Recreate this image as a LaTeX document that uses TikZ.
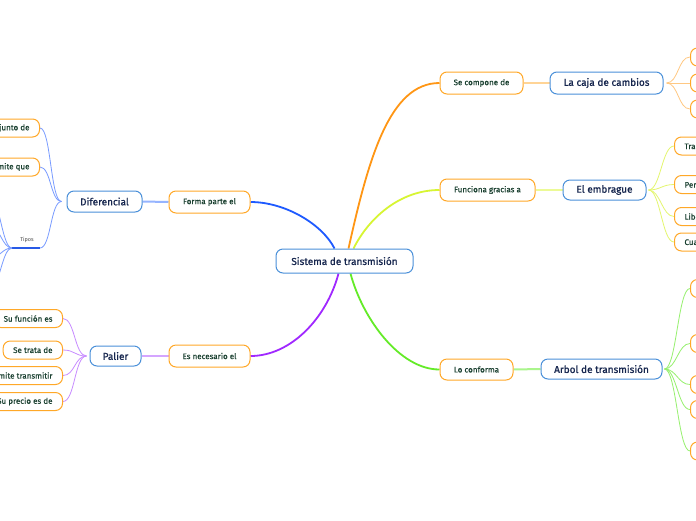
\documentclass[tikz,border=0pt]{standalone}
\usepackage{fontspec}
\setmainfont{Fira Sans}
\newfontfamily\mainfnt{Fira Sans}[FakeBold=0.9]
\newfontfamily\linkfnt{Fira Sans}[FakeBold=0.4]
\usetikzlibrary{backgrounds}
\definecolor{boxorange}{RGB}{255,168,40}
\definecolor{mainblue}{RGB}{74,144,217}
\definecolor{navy}{RGB}{22,38,78}
\definecolor{dkgreen}{RGB}{26,64,48}
\definecolor{cblue}{RGB}{30,90,255}
\definecolor{cpurple}{RGB}{160,40,255}
\definecolor{corange}{RGB}{255,150,20}
\definecolor{cyellow}{RGB}{215,245,50}
\definecolor{cgreen}{RGB}{100,235,40}
\definecolor{lblue}{RGB}{150,180,255}
\definecolor{lpurple}{RGB}{212,165,255}
\definecolor{lorange}{RGB}{255,212,150}
\definecolor{lyellow}{RGB}{236,250,150}
\definecolor{lgreen}{RGB}{170,245,140}
\definecolor{tblue}{RGB}{120,155,255}
\definecolor{tpurple}{RGB}{200,140,255}
\definecolor{torange}{RGB}{255,200,130}
\definecolor{tyellow}{RGB}{228,246,110}
\definecolor{tgreen}{RGB}{150,240,110}
\definecolor{tipblue}{RGB}{40,90,230}
\begin{document}
\begin{tikzpicture}[x=1pt,y=-1pt,
  mainbox/.style={draw=mainblue, line width=1pt, rounded corners=7pt, fill=white, text=navy,
    font=\mainfnt\fontsize{10}{12}\selectfont, inner sep=0pt, minimum height=21pt},
  linkbox/.style={draw=boxorange, line width=1pt, rounded corners=7pt, fill=white, text=dkgreen,
    font=\linkfnt\fontsize{8}{10}\selectfont, inner sep=0pt, minimum height=22pt},
  leafbox/.style={draw=boxorange, line width=1pt, rounded corners=7pt, fill=white, text=dkgreen,
    font=\linkfnt\fontsize{8}{10}\selectfont, inner xsep=10pt, inner ysep=0pt, minimum height=18pt},
  stubbox/.style={draw=boxorange, line width=1pt, rounded corners=7pt, fill=white,
    inner sep=0pt, minimum height=18pt, minimum width=60pt},
  maincon/.style={line width=1.8pt},
  linkcon/.style={line width=2pt},
  leafcon/.style={line width=0.8pt}
]
\useasboundingbox (0,0) rectangle (696,520);
\clip (0,0) rectangle (696,520);

% central
\node[mainbox, minimum width=137pt, minimum height=24pt] (sys) at (344.5,261) {Sistema de transmisión};

% left branch nodes
\node[linkbox, minimum width=81pt] (forma) at (209.5,202) {Forma parte el};
\node[mainbox, minimum width=75pt] (dif) at (104.5,201.5) {Diferencial};
\node[linkbox, minimum width=81pt] (necesario) at (209.5,356) {Es necesario el};
\node[mainbox, minimum width=51pt, minimum height=20pt] (palier) at (115.5,356) {Palier};

% right branch nodes
\node[linkbox, minimum width=83pt] (compone) at (481.5,83) {Se compone de};
\node[mainbox, minimum width=113pt, minimum height=22pt] (caja) at (606.5,83) {La caja de cambios};
\node[linkbox, minimum width=95pt] (funciona) at (487.5,190) {Funciona gracias a};
\node[mainbox, minimum width=83pt, minimum height=20pt] (embrague) at (604.5,190) {El embrague};
\node[linkbox, minimum width=73pt, minimum height=21pt] (conforma) at (476.5,369.5) {Lo conforma};
\node[mainbox, minimum width=121pt, minimum height=20pt] (arbol) at (601.5,369) {Arbol de transmisión};

% Diferencial leaves
\node[leafbox, anchor=east] (d1) at (40,128) {Conjunto de};
\node[leafbox, anchor=east] (d2) at (40,167) {Permite que};
\coordinate (tipR) at (40,248);
\coordinate (tipL) at (12,248);
\node[font=\fontsize{5.5}{7}\selectfont, text=black!70, inner sep=0pt] (tipos) at (27,240) {Tipos};
\coordinate (tc1) at (-10,198);
\coordinate (tc2) at (-10,226);
\coordinate (tc3) at (-10,258);
\coordinate (tc4) at (-10,288);

% Palier leaves
\node[leafbox, anchor=east] (p1) at (63,318.5) {Su función es};
\node[leafbox, anchor=east] (p2) at (63,350) {Se trata de};
\node[leafbox, anchor=east] (p3) at (63,375.5) {Permite transmitir};
\node[leafbox, anchor=east] (p4) at (63,401.5) {Su precio es de};

% Caja leaves
\node[stubbox, anchor=west] (c1) at (690,57) {};
\node[stubbox, anchor=west] (c2) at (690,83) {};
\node[stubbox, anchor=west] (c3) at (690,109) {};

% Embrague leaves
\node[leafbox, anchor=west] (e1) at (674,146) {Transmite};
\node[leafbox, anchor=west] (e2) at (674,184.5) {Permite};
\node[leafbox, anchor=west] (e3) at (674,216.5) {Libera};
\node[leafbox, anchor=west] (e4) at (674,242) {Cuando};

% Arbol leaves
\node[stubbox, anchor=west] (a1) at (690,288.5) {};
\node[stubbox, anchor=west] (a2) at (690,343.5) {};
\node[stubbox, anchor=west] (a3) at (690,384.5) {};
\node[stubbox, anchor=west] (a4) at (690,409.5) {};
\node[stubbox, anchor=west] (a5) at (690,451) {};

\begin{scope}[on background layer]
\fill[white] (0,0) rectangle (696,520);
% central connectors
\draw[maincon, cblue] ([xshift=-10pt]sys.north) .. controls +(-12,-24) and +(35,0) .. (forma.east);
\draw[maincon, corange] ([xshift=4pt]sys.north) .. controls +(20,-90) and +(-50,0) .. (compone.west);
\draw[maincon, cyellow] ([xshift=9pt]sys.north) .. controls +(15,-30) and +(-40,0) .. (funciona.west);
\draw[maincon, cgreen] ([xshift=6pt]sys.south) .. controls +(12,45) and +(-40,0) .. (conforma.west);
\draw[maincon, cpurple] ([xshift=-6pt]sys.south) .. controls +(-12,45) and +(40,0) .. (necesario.east);

% link to main
\draw[linkcon, lblue] (forma.west) -- (dif.east);
\draw[linkcon, lpurple] (necesario.west) -- (palier.east);
\draw[linkcon, lorange] (compone.east) -- (caja.west);
\draw[linkcon, lyellow] (funciona.east) -- (embrague.west);
\draw[linkcon, lgreen] (conforma.east) -- (arbol.west);

% Diferencial leaves
\foreach \t in {d1,d2}
  \draw[leafcon, tblue] ([xshift=-5pt]dif.west) .. controls +(-11,0) and +(11,0) .. (\t.east);
\draw[leafcon, tblue] ([xshift=-5pt]dif.west) .. controls +(-11,0) and +(11,0) .. (tipR);
\draw[line width=1.5pt, tipblue] (tipL) -- (tipR);
\foreach \t in {tc1,tc2,tc3,tc4}
  \draw[leafcon, tblue] (tipL) .. controls +(-10,0) and +(10,0) .. (\t);

% Palier leaves
\foreach \t in {p1,p2,p3,p4}
  \draw[leafcon, tpurple] ([xshift=-3pt]palier.west) .. controls +(-12,0) and +(12,0) .. (\t.east);

% Caja leaves
\foreach \t in {c1,c2,c3}
  \draw[leafcon, torange] ([xshift=3pt]caja.east) .. controls +(12,0) and +(-12,0) .. (\t.west);

% Embrague leaves
\foreach \t in {e1,e2,e3,e4}
  \draw[leafcon, tyellow] ([xshift=2pt]embrague.east) .. controls +(12,0) and +(-12,0) .. (\t.west);

% Arbol leaves
\foreach \t in {a1,a2,a3,a4,a5}
  \draw[leafcon, tgreen] ([xshift=2pt]arbol.east) .. controls +(12,0) and +(-12,0) .. (\t.west);
\end{scope}
\end{tikzpicture}
\end{document}
